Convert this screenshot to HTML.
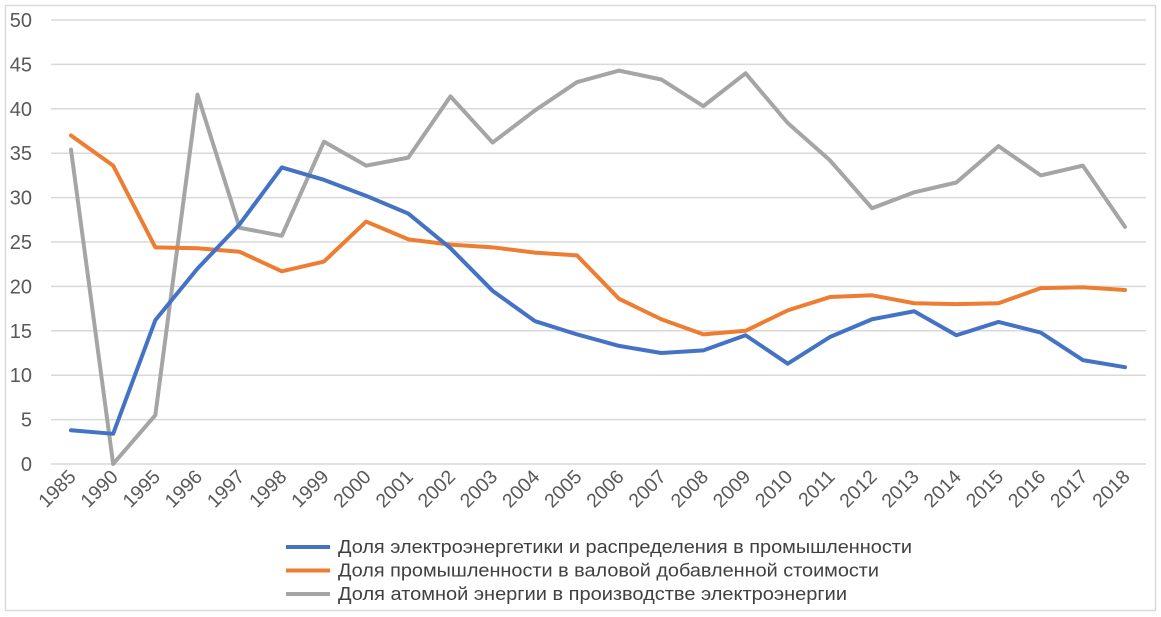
<!DOCTYPE html>
<html><head><meta charset="utf-8"><style>
body{margin:0;background:#fff;}
svg{display:block;font-family:"Liberation Sans",sans-serif;}
</style></head><body>
<svg id="c" width="1161" height="617" xmlns="http://www.w3.org/2000/svg">
<rect x="5.5" y="5.5" width="1150" height="605" fill="#fff" stroke="#d9d9d9" stroke-width="1.5"/>
<g id="g"></g>
</svg>
<script>
var svg=document.getElementById('g'),NS="http://www.w3.org/2000/svg";
function el(t,a,txt){var e=document.createElementNS(NS,t);for(var k in a)e.setAttribute(k,a[k]);if(txt!=null)e.textContent=txt;svg.appendChild(e);return e;}
function Y(v){return 464-v*8.88;}
function X(i){return 71+i*42.16;}
for(var v=0;v<=50;v+=5){el('line',{x1:51,x2:1146,y1:Y(v),y2:Y(v),stroke:'#d9d9d9','stroke-width':1.5});
el('text',{x:32,y:Y(v)+7,'text-anchor':'end','font-size':20,fill:'#595959'},v);}
var yrs=[1985,1990,1995];for(var y=1996;y<=2018;y++)yrs.push(y);
yrs.forEach(function(y,i){var x=X(i)+6,yy=478;el('text',{x:x,y:yy,'text-anchor':'end','font-size':19.5,fill:'#595959',transform:'rotate(-45 '+x+' '+yy+')'},y);});
var S=[
['#4472c4',[3.8,3.4,16.2,22,27,33.4,32,30.2,28.2,24.3,19.5,16.1,14.6,13.3,12.5,12.8,14.5,11.3,14.3,16.3,17.2,14.5,16,14.8,11.7,10.9]],
['#ed7d31',[37,33.6,24.4,24.3,23.9,21.7,22.8,27.3,25.3,24.7,24.4,23.8,23.5,18.6,16.3,14.6,15,17.3,18.8,19,18.1,18,18.1,19.8,19.9,19.6]],
['#a5a5a5',[35.4,0,5.5,41.6,26.6,25.7,36.3,33.6,34.5,41.4,36.2,39.8,43,44.3,43.3,40.3,44,38.4,34.2,28.8,30.6,31.7,35.8,32.5,33.6,26.7]]];
[2,1,0].forEach(function(k){var s=S[k];el('polyline',{points:s[1].map(function(v,i){return X(i)+','+Y(v)}).join(' '),fill:'none',stroke:s[0],'stroke-width':4,'stroke-linejoin':'round','stroke-linecap':'round'});});
var L=['Доля электроэнергетики и распределения в промышленности','Доля промышленности в валовой добавленной стоимости','Доля атомной энергии в производстве электроэнергии'];
var W=[574,541,509];
L.forEach(function(t,i){var y=547+i*23.5;el('line',{x1:286,x2:330,y1:y,y2:y,stroke:S[i][0],'stroke-width':4});
el('text',{x:338,y:y+6,'font-size':18.5,fill:'#404040',textLength:W[i],lengthAdjust:'spacingAndGlyphs'},t);});
</script>
</body></html>
